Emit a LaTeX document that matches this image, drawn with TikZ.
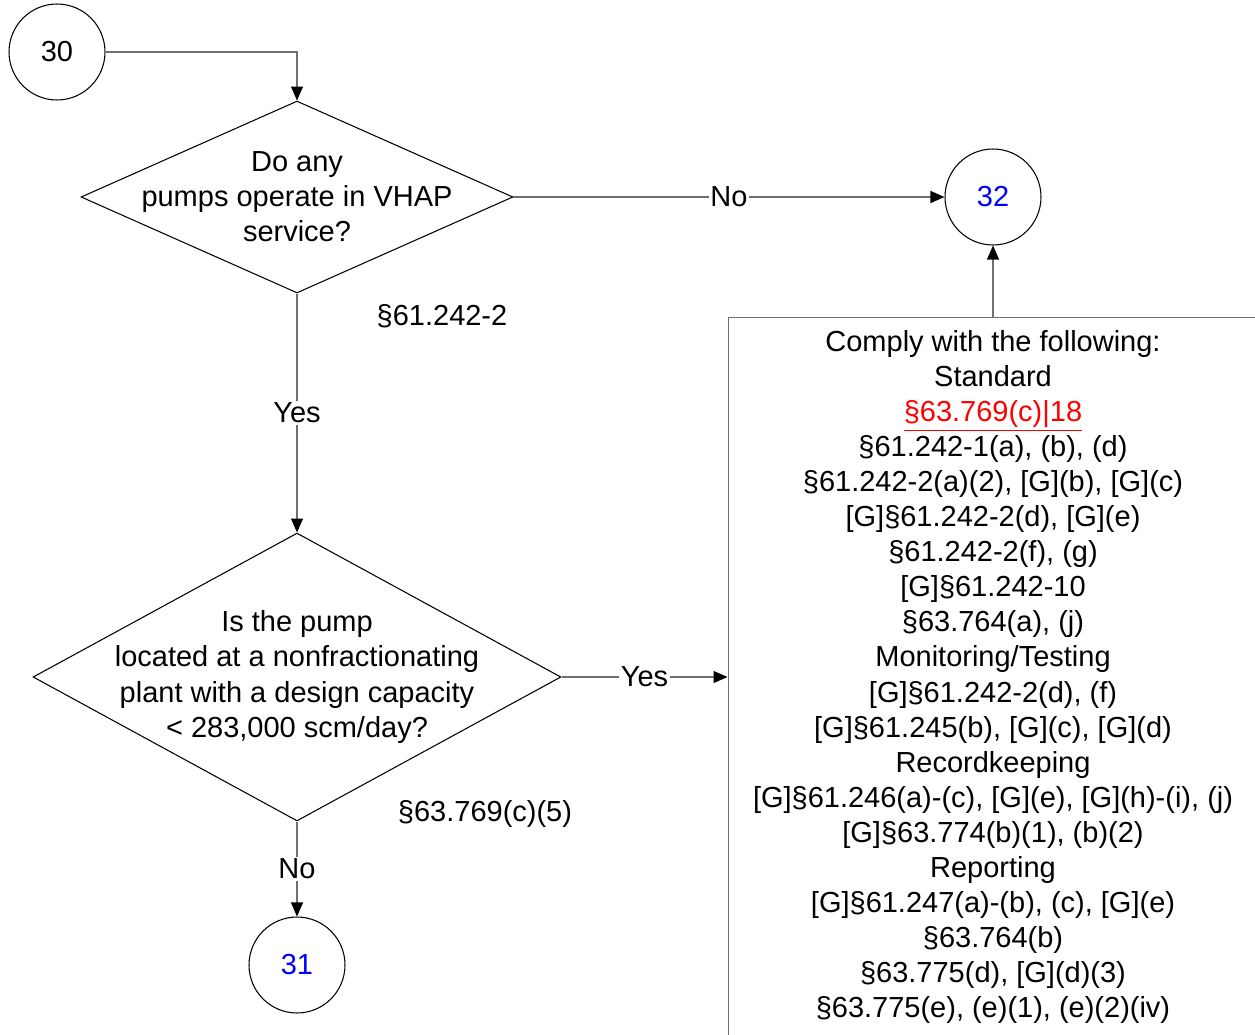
\documentclass[tikz,border=0pt]{standalone}
\usepackage{fontspec}
\setmainfont{Liberation Sans}
\usetikzlibrary{shapes.geometric,arrows.meta}
\definecolor{linegray}{RGB}{112,112,112}

\begin{document}
\begin{tikzpicture}[x=0.02cm, y=-0.02cm,
	every node/.style={font=\fontsize{16.5}{19.97}\selectfont},
	circ/.style={circle, draw=black, line width=0.6pt, minimum size=1.92cm, inner sep=0pt},
	dia/.style={diamond, draw=black, line width=0.6pt, inner sep=0pt},
	box/.style={rectangle, draw=linegray, line width=0.6pt, minimum width=10.6cm, minimum height=14.4cm, align=center},
	lbl/.style={fill=white, inner sep=1pt},
	conn/.style={draw=linegray, line width=0.6pt, -{Triangle[length=0.28cm, width=0.24cm, color=black]}}]
			\clip (0,0) rectangle (1255,1035);
			
			\node[circ] (c30) at (57,52) {30};
			\node[dia, minimum width=8.64cm, minimum height=3.84cm] (q1) at (297,197) {};
			\node[align=center] (q1t) at (q1) {Do any\\pumps operate in VHAP\\service?};
			\node[circ, text=blue] (c32) at (993,197) {32};
			\node (ref1) at (442,316) {§61.242-2};
			
			\node[dia, minimum width=10.56cm, minimum height=5.76cm] (q2) at (297,677) {};
			\node[align=center] (q2t) at (q2) {Is the pump\\located at a nonfractionating\\plant with a design capacity\\< 283,000 scm/day?};
			\node (ref2) at (485,814) {§63.769(c)(5)};
			\node[circ, text=blue] (c31) at (297,965) {31};
			
			\node[box] (comply) at (993,677) {Comply with the following:\\Standard\\\textcolor{red}{\underline{§63.769(c)|18}}\\§61.242-1(a), (b), (d)\\§61.242-2(a)(2), [G](b), [G](c)\\{[G]}§61.242-2(d), [G](e)\\§61.242-2(f), (g)\\{[G]}§61.242-10\\§63.764(a), (j)\\Monitoring/Testing\\{[G]}§61.242-2(d), (f)\\{[G]}§61.245(b), [G](c), [G](d)\\Recordkeeping\\{[G]}§61.246(a)-(c), [G](e), [G](h)-(i), (j)\\{[G]}§63.774(b)(1), (b)(2)\\Reporting\\{[G]}§61.247(a)-(b), (c), [G](e)\\§63.764(b)\\§63.775(d), [G](d)(3)\\§63.775(e), (e)(1), (e)(2)(iv)};
			
			\draw[conn] (c30) -| (q1);
			\draw[conn] (q1) -- node[lbl]{No} (c32);
			\draw[conn] (q1) -- node[lbl]{Yes} (q2);
			\draw[conn] (q2) -- node[lbl]{Yes} (comply);
			\draw[conn] (q2) -- node[lbl]{No} (c31);
			\draw[conn] (comply) -- (c32);
\end{tikzpicture}
\end{document}
